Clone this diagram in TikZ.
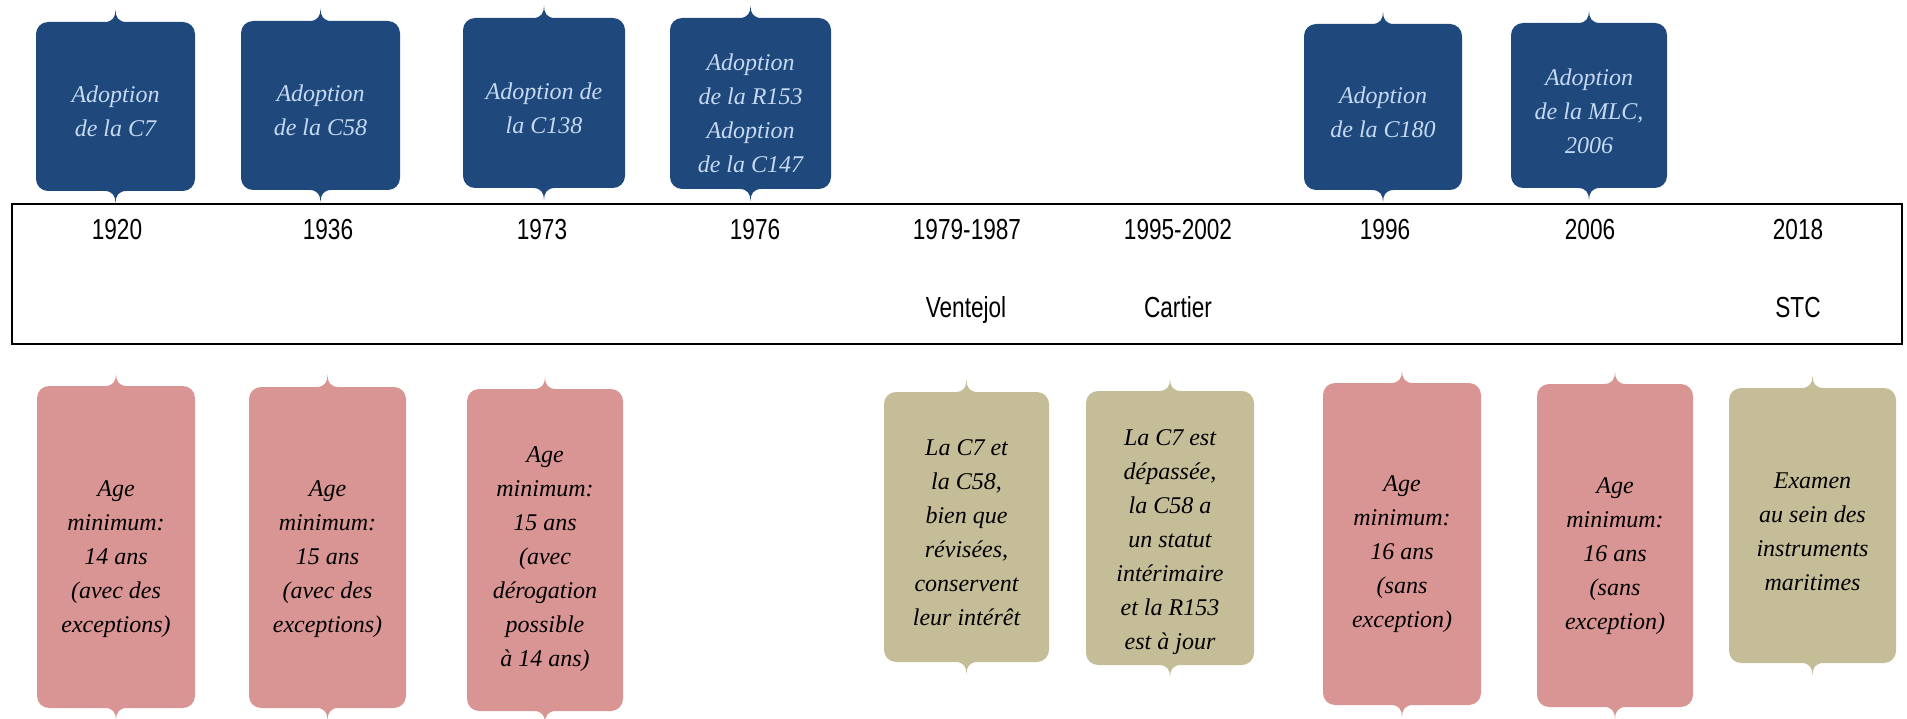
\documentclass[tikz,border=0pt]{standalone}
\usepackage{fontspec}
\newfontfamily\boxfont{Liberation Serif}
\newfontfamily\yearfont[FakeStretch=0.78]{Liberation Sans}
\definecolor{tblue}{HTML}{1F497D}
\definecolor{tbluetext}{HTML}{C6D9F1}
\definecolor{tpink}{HTML}{D99594}
\definecolor{tolive}{HTML}{C4BD97}
\tikzset{
  boxtext/.style={align=center, inner sep=0pt, font=\boxfont\itshape\fontsize{24}{34}\selectfont},
  toptext/.style={boxtext, text=tbluetext},
  bottext/.style={boxtext, text=black},
  yearlab/.style={anchor=base, inner sep=0pt, font=\yearfont\fontsize{29}{29}\selectfont},
  timeline/.style={draw=black, line width=2.6pt, inner sep=0pt, minimum width=1890pt, minimum height=140pt}
}
\newcommand{\nbox}[9]{%
  \pgfmathsetmacro{\nbcx}{(#2+#4)/2}%
  \pgfmathsetmacro{\nbcy}{(#3+#5)/2+#9}%
  \fill[#6] ({#2+12},#3) -- ({\nbcx-11},#3)
    .. controls ({\nbcx-3},#3) and (\nbcx,{#3-5}) .. (\nbcx,{#3-12})
    .. controls (\nbcx,{#3-5}) and ({\nbcx+3},#3) .. ({\nbcx+11},#3)
    -- ({#4-12},#3) .. controls ({#4-5.4},#3) and (#4,{#3+5.4}) .. (#4,{#3+12})
    -- (#4,{#5-12}) .. controls (#4,{#5-5.4}) and ({#4-5.4},#5) .. ({#4-12},#5)
    -- ({\nbcx+11},#5) .. controls ({\nbcx+3},#5) and (\nbcx,{#5+5}) .. (\nbcx,{#5+12})
    .. controls (\nbcx,{#5+5}) and ({\nbcx-3},#5) .. ({\nbcx-11},#5)
    -- ({#2+12},#5) .. controls ({#2+5.4},#5) and (#2,{#5-5.4}) .. (#2,{#5-12})
    -- (#2,{#3+12}) .. controls (#2,{#3+5.4}) and ({#2+5.4},#3) .. cycle;
  \node[#7] (#1) at (\nbcx,\nbcy) {#8};
}
\begin{document}
\begin{tikzpicture}[x=1pt,y=-1pt]
\useasboundingbox (0,0) rectangle (1907,719);
% timeline frame
\node[timeline] (tl) at (957,274) {};
% years
\node[yearlab] (y1920) at (117,240) {1920};
\node[yearlab] (y1936) at (328,240) {1936};
\node[yearlab] (y1973) at (542,240) {1973};
\node[yearlab] (y1976) at (755,240) {1976};
\node[yearlab] (y1979) at (967,240) {1979-1987};
\node[yearlab] (y1995) at (1178,240) {1995-2002};
\node[yearlab] (y1996) at (1385,240) {1996};
\node[yearlab] (y2006) at (1590,240) {2006};
\node[yearlab] (y2018) at (1798,240) {2018};
\node[yearlab] (ventejol) at (966,318) {Ventejol};
\node[yearlab] (cartier) at (1178,318) {Cartier};
\node[yearlab] (stc) at (1798,318) {STC};
% top boxes
\nbox{t1}{36}{22}{195}{191}{fill=tblue}{toptext}{Adoption\\de la C7}{5}
\nbox{t2}{241}{21}{400}{190}{fill=tblue}{toptext}{Adoption\\de la C58}{5}
\nbox{t3}{463}{18}{625}{188}{fill=tblue}{toptext}{Adoption de\\la C138}{5}
\nbox{t4}{670}{18}{831}{189}{fill=tblue}{toptext}{Adoption\\de la R153\\Adoption\\de la C147}{10}
\nbox{t5}{1304}{24}{1462}{190}{fill=tblue}{toptext}{Adoption\\de la C180}{5}
\nbox{t6}{1511}{23}{1667}{188}{fill=tblue}{toptext}{Adoption\\de la MLC,\\2006}{6}
% bottom boxes
\nbox{b1}{37}{386}{195}{708}{fill=tpink}{bottext}{Age\\minimum:\\14 ans\\(avec des\\exceptions)}{12}
\nbox{b2}{249}{387}{406}{708}{fill=tpink}{bottext}{Age\\minimum:\\15 ans\\(avec des\\exceptions)}{12}
\nbox{b3}{467}{389}{623}{711}{fill=tpink}{bottext}{Age\\minimum:\\15 ans\\(avec\\dérogation\\possible\\à 14 ans)}{9}
\nbox{b4}{884}{392}{1049}{662}{fill=tolive}{bottext}{La C7 et\\la C58,\\bien que\\révisées,\\conservent\\leur intérêt}{6}
\nbox{b5}{1086}{391}{1254}{665}{fill=tolive}{bottext}{La C7 est\\dépassée,\\la C58 a\\un statut\\intérimaire\\et la R153\\est à jour}{14}
\nbox{b6}{1323}{383}{1481}{705}{fill=tpink}{bottext}{Age\\minimum:\\16 ans\\(sans\\exception)}{10}
\nbox{b7}{1537}{384}{1693}{707}{fill=tpink}{bottext}{Age\\minimum:\\16 ans\\(sans\\exception)}{11}
\nbox{b8}{1729}{388}{1896}{663}{fill=tolive}{bottext}{Examen\\au sein des\\instruments\\maritimes}{6}
\end{tikzpicture}
\end{document}
